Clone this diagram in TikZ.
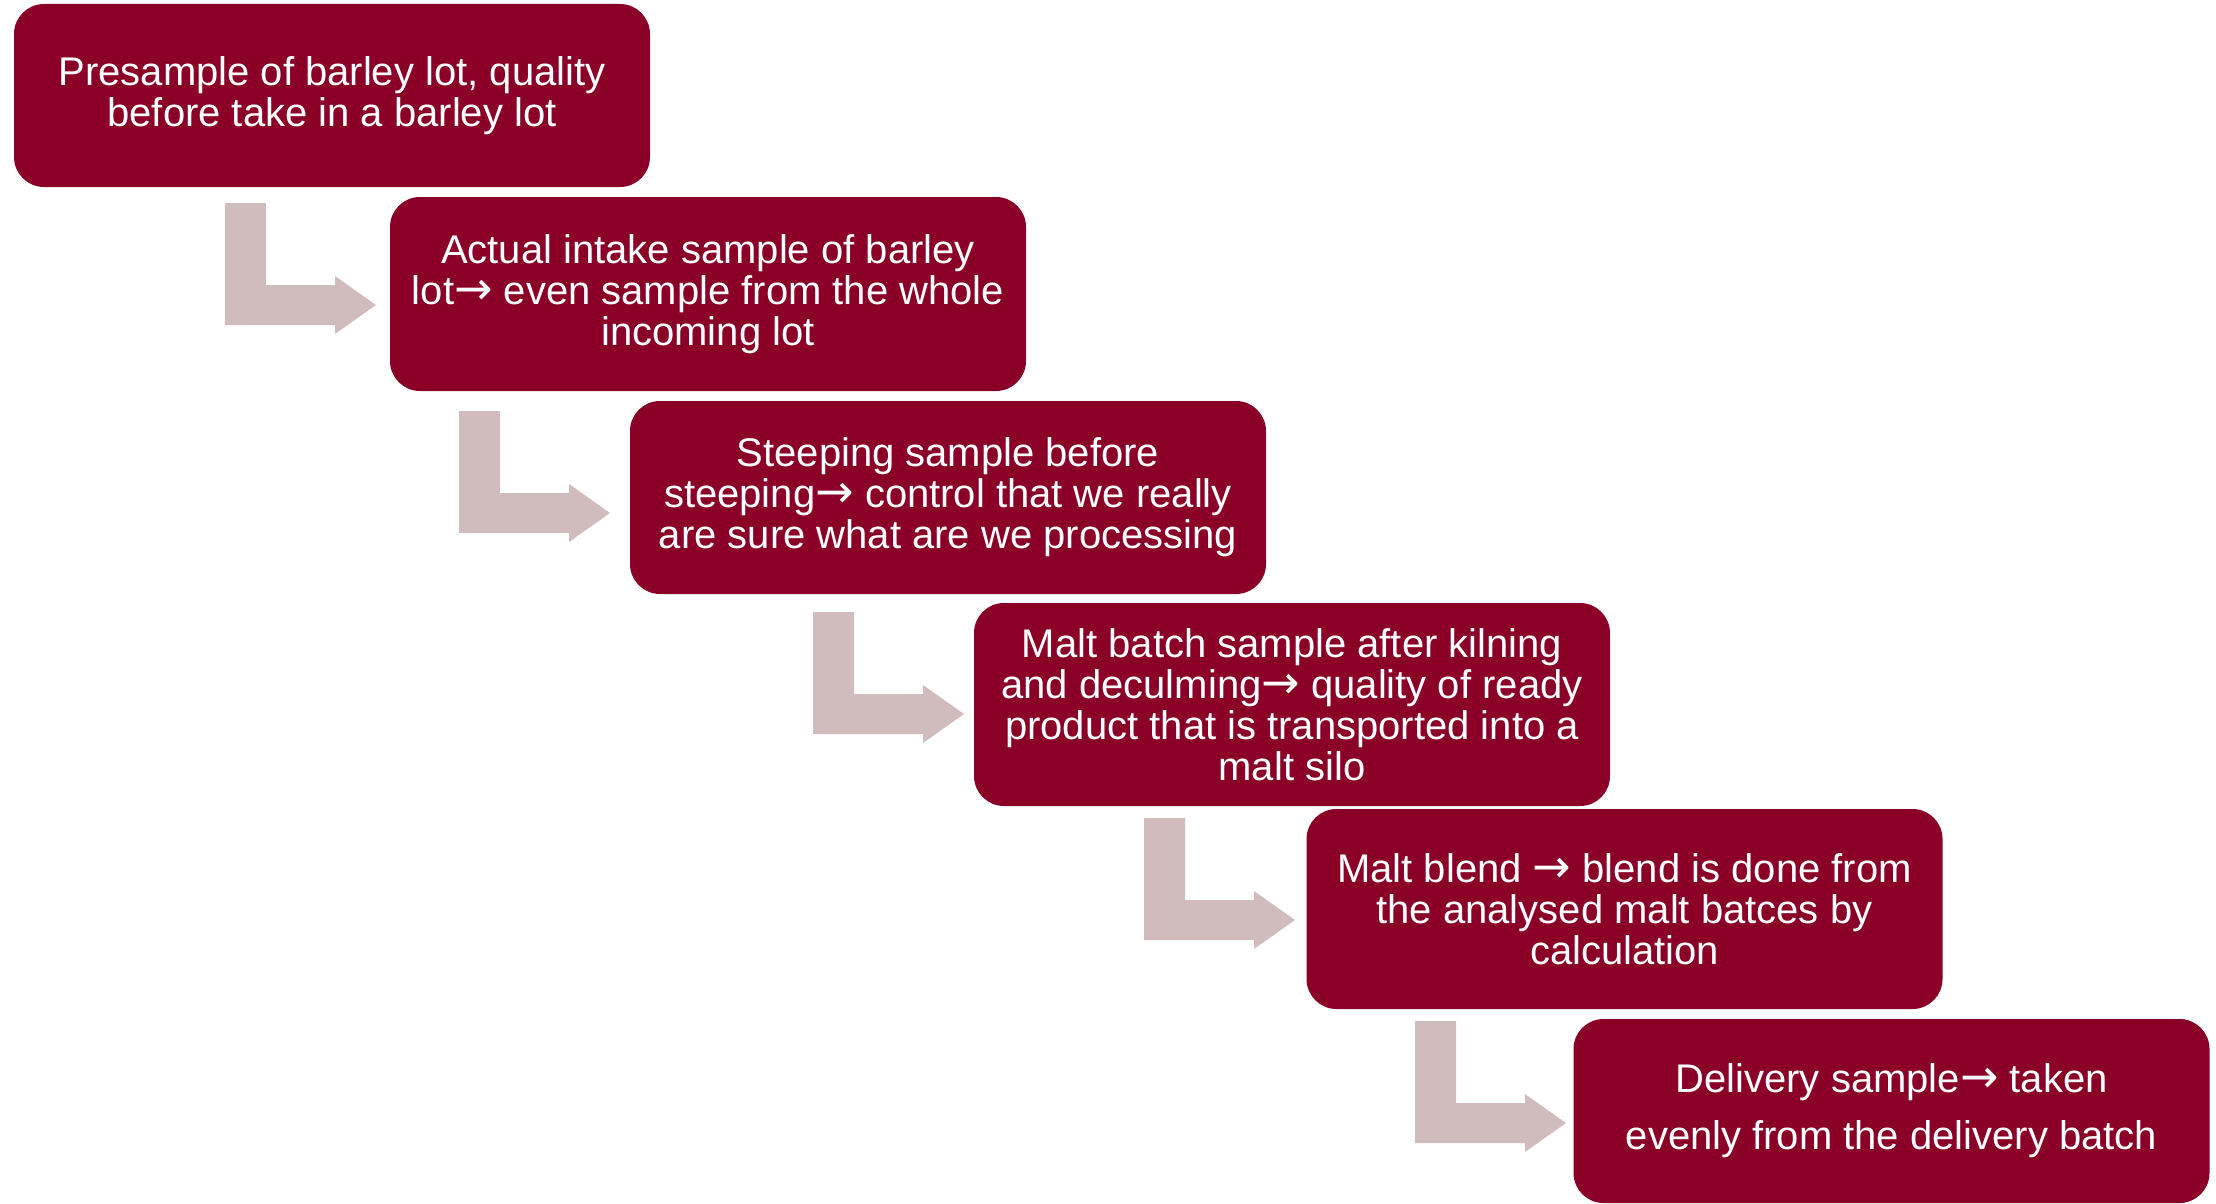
\documentclass[tikz,border=0pt]{standalone}
\usepackage{fontspec}
\setmainfont{Liberation Sans}
\newfontfamily\arrowfont{DejaVu Sans}
\newcommand\rarr{{\arrowfont\fontsize{23}{20}\selectfont →}}
\definecolor{boxred}{HTML}{8A0027}
\definecolor{arrowpink}{HTML}{D1BCBD}
\begin{document}
\begin{tikzpicture}[x=0.5pt,y=-0.5pt,
  stepbox/.style={fill=boxred, draw=none, rounded corners=15pt, inner sep=0pt,
    minimum width=318pt, text=white, align=center,
    font=\fontsize{20}{20.5}\selectfont},
  bentarrow/.pic={\fill[arrowpink] (0,0) -- (41,0) -- (41,82) -- (110,82) -- (110,73)
     -- (151,102) -- (110,131) -- (110,122) -- (0,122) -- cycle;}]
\useasboundingbox (0,0) rectangle (2216,1204);
\node[stepbox, minimum height=91.5pt] (b1) at (332,95.5)
  {Presample of barley lot, quality\\before take in a barley lot};
\node[stepbox, minimum height=97pt] (b2) at (708,294)
  {Actual intake sample of barley\\lot\rarr\ even sample from the whole\\incoming lot};
\node[stepbox, minimum height=96.5pt] (b3) at (948,497.5)
  {Steeping sample before\\steeping\rarr\ control that we really\\are sure what are we processing};
\node[stepbox, minimum height=101.5pt] (b4) at (1292,704.5)
  {Malt batch sample after kilning\\and deculming\rarr\ quality of ready\\product that is transported into a\\malt silo};
\node[stepbox, minimum height=100pt] (b5) at (1624.5,909)
  {Malt blend \rarr\ blend is done from\\the analysed malt batces by\\calculation};
\node[stepbox, minimum height=92pt, font=\fontsize{20}{28.5}\selectfont] (b6) at (1891.5,1111)
  {Delivery sample\rarr\ taken\\evenly from the delivery batch};
\pic at (225,203) {bentarrow};
\pic at (459,411) {bentarrow};
\pic at (813,612) {bentarrow};
\pic at (1144,818) {bentarrow};
\pic at (1415,1021) {bentarrow};
\end{tikzpicture}
\end{document}
